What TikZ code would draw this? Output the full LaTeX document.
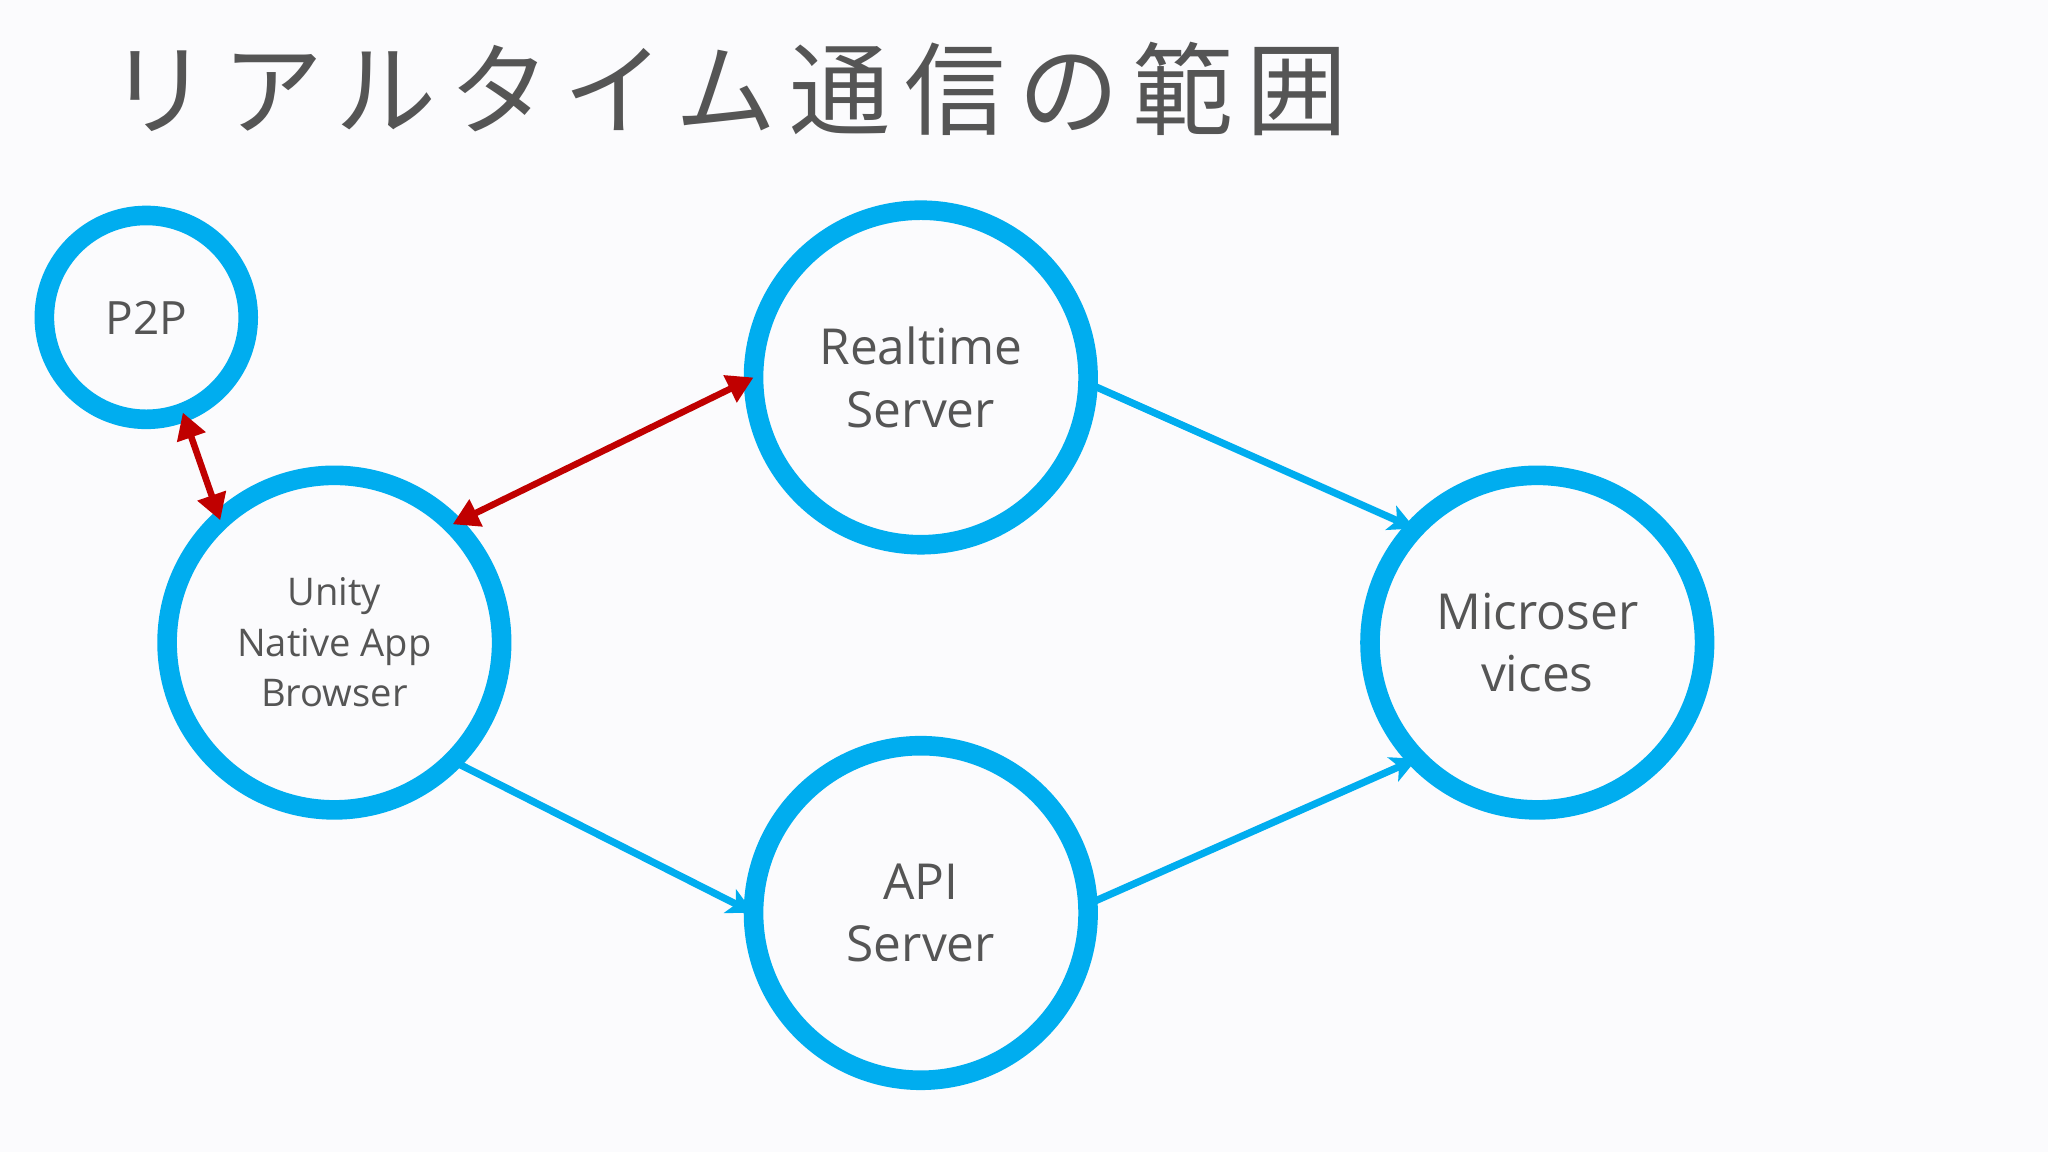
\documentclass[tikz,border=0pt]{standalone}
\usepackage{fontspec}
\setmainfont{Open Sans}
\newfontfamily\cjk{Noto Sans CJK JP}[LetterSpace=13]
\usetikzlibrary{arrows.meta}
\definecolor{cblue}{HTML}{00ADEF}
\definecolor{cred}{HTML}{C00000}
\definecolor{ctext}{HTML}{555555}
\definecolor{bg}{HTML}{FBFBFD}
\begin{document}
\begin{tikzpicture}[x=0.01cm,y=-0.01cm,
  ring/.style={circle,draw=cblue,line width=0.15cm,outer sep=0pt,inner sep=0pt,minimum size=#1,text=ctext,align=center},
  redarr/.style={draw=cred,line width=0.05cm,{Triangle[length=0.2cm,width=0.22cm]}-{Triangle[length=0.2cm,width=0.22cm]}},
  bluearr/.style={draw=cblue,line width=0.055cm,-{Stealth[length=0.2cm,width=0.2cm,inset=0.05cm]}}]
\fill[bg] (0,0) rectangle (1568,882);
\useasboundingbox (0,0) rectangle (1568,882);
\node[anchor=west,inner sep=0pt,text=ctext,font=\cjk\fontsize{22}{26}\selectfont] (title) at (82,68) {リアルタイム通信の範囲};
\node[ring=1.56cm,font=\fontsize{10}{12}\selectfont] (p) at (112,243) {P2P};
\node[ring=2.56cm,font=\fontsize{8.3}{11}\selectfont] (u) at (256,492) {Unity\\Native App\\Browser};
\node[ring=2.56cm,font=\fontsize{10.8}{13.6}\selectfont] (r) at (705,289) {Realtime\\Server};
\node[ring=2.56cm,font=\fontsize{10.8}{13.6}\selectfont] (a) at (705,699) {API\\Server};
\node[ring=2.56cm,font=\fontsize{10.8}{13.6}\selectfont] (m) at (1177,492) {Microser\\vices};
\draw[redarr] (p.-69.5) -- (u.133.5);
\draw[redarr] (u.45) -- (r.180);
\draw[bluearr] (r.-2) -- (m.137);
\draw[bluearr] (u.-45) -- (a.180);
\draw[bluearr] (a.3) -- (m.-136);
\end{tikzpicture}
\end{document}
